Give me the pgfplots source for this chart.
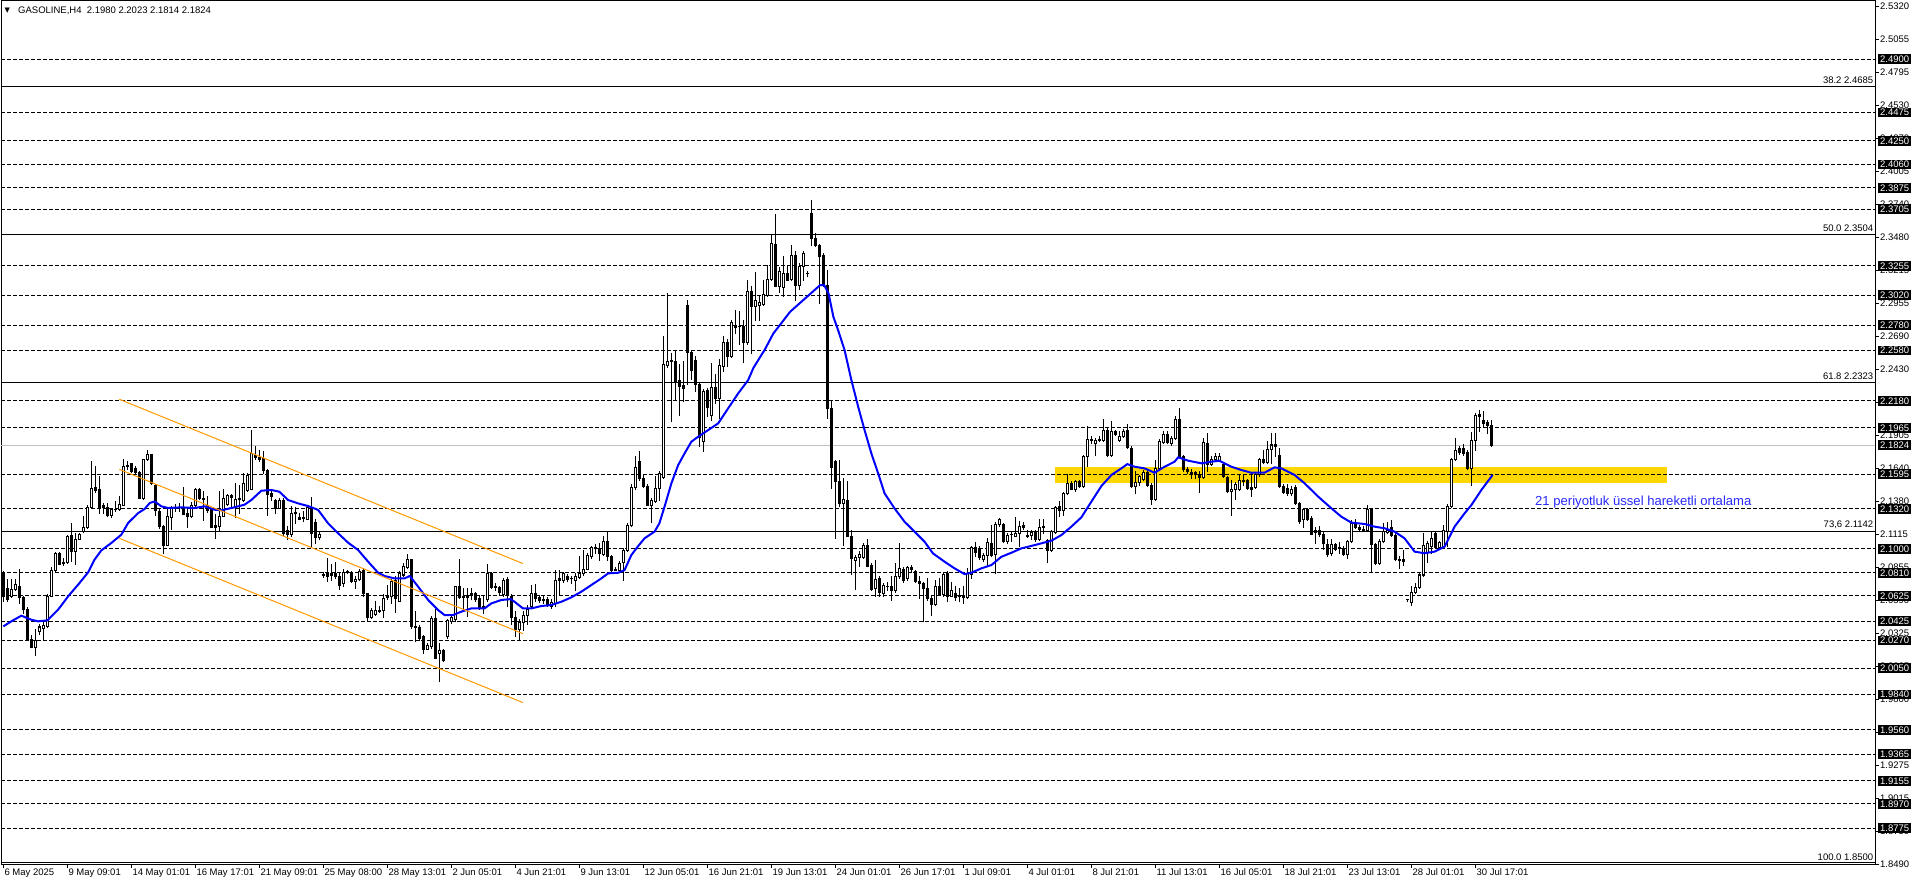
\documentclass[border=0pt]{standalone}
\usepackage{fontspec}
\setmainfont{Liberation Sans}
\newfontfamily\symfont{DejaVu Sans}
\usepackage{pgfplots}
\usepackage{pgfplotstable}
\pgfplotsset{compat=1.18}

\definecolor{mtorange}{RGB}{255,153,0}
\definecolor{mtgold}{RGB}{255,215,0}
\definecolor{mtsilver}{RGB}{192,192,192}
\definecolor{mtblue}{RGB}{0,0,255}
\definecolor{notecol}{RGB}{40,40,255}

\newcommand\lab{\fontsize{9.5bp}{11bp}\selectfont}

% H4 candles, bar index / open / high / low / close
\pgfplotstableread{
i o h l c
0 2.0808 2.0821 2.0582 2.0622
1 2.0688 2.0755 2.0582 2.0595
2 2.0622 2.0760 2.0615 2.0680
3 2.0675 2.0760 2.0670 2.0715
4 2.0702 2.0834 2.0569 2.0609
5 2.0609 2.0622 2.0489 2.0516
6 2.0521 2.0530 2.0282 2.0282
7 2.0282 2.0309 2.0211 2.0211
8 2.0211 2.0357 2.0150 2.0272
9 2.0343 2.0396 2.0317 2.0378
10 2.0370 2.0415 2.0277 2.0388
11 2.0383 2.0635 2.0378 2.0617
12 2.0622 2.0848 2.0617 2.0829
13 2.0829 2.0972 2.0821 2.0967
14 2.0967 2.0972 2.0874 2.0874
15 2.0893 2.0927 2.0866 2.0880
16 2.0893 2.1105 2.0882 2.1100
17 2.1105 2.1200 2.0901 2.0980
18 2.0980 2.1121 2.0874 2.1073
19 2.1073 2.1121 2.1073 2.1113
20 2.1139 2.1259 2.1131 2.1174
21 2.1174 2.1344 2.1166 2.1333
22 2.1333 2.1697 2.1325 2.1484
23 2.1492 2.1652 2.1450 2.1466
24 2.1471 2.1577 2.1285 2.1325
25 2.1344 2.1365 2.1285 2.1331
26 2.1331 2.1360 2.1254 2.1264
27 2.1264 2.1325 2.1246 2.1312
28 2.1312 2.1378 2.1299 2.1317
29 2.1317 2.1413 2.1307 2.1352
30 2.1349 2.1710 2.1344 2.1657
31 2.1657 2.1697 2.1630 2.1662
32 2.1678 2.1683 2.1609 2.1617
33 2.1636 2.1652 2.1591 2.1609
34 2.1609 2.1617 2.1405 2.1405
35 2.1400 2.1710 2.1392 2.1710
36 2.1710 2.1784 2.1705 2.1750
37 2.1750 2.1750 2.1511 2.1519
38 2.1503 2.1511 2.1264 2.1304
39 2.1299 2.1312 2.1166 2.1179
40 2.1179 2.1184 2.0962 2.1025
41 2.1028 2.1312 2.1025 2.1259
42 2.1246 2.1339 2.1153 2.1325
43 2.1325 2.1352 2.1299 2.1331
44 2.1331 2.1365 2.1299 2.1328
45 2.1331 2.1492 2.1272 2.1272
46 2.1285 2.1312 2.1174 2.1254
47 2.1254 2.1370 2.1246 2.1344
48 2.1344 2.1484 2.1339 2.1471
49 2.1476 2.1484 2.1392 2.1405
50 2.1405 2.1458 2.1227 2.1392
51 2.1344 2.1413 2.1291 2.1307
52 2.1325 2.1325 2.1174 2.1174
53 2.1174 2.1272 2.1086 2.1187
54 2.1179 2.1458 2.1147 2.1259
55 2.1259 2.1471 2.1254 2.1405
56 2.1352 2.1431 2.1344 2.1423
57 2.1413 2.1431 2.1339 2.1423
58 2.1333 2.1519 2.1246 2.1397
59 2.1392 2.1503 2.1285 2.1405
60 2.1386 2.1599 2.1378 2.1519
61 2.1466 2.1599 2.1458 2.1583
62 2.1476 2.1944 2.1471 2.1758
63 2.1747 2.1814 2.1708 2.1729
64 2.1729 2.1782 2.1694 2.1713
65 2.1721 2.1774 2.1601 2.1623
66 2.1623 2.1628 2.1262 2.1429
67 2.1437 2.1469 2.1389 2.1416
68 2.1384 2.1394 2.1278 2.1323
69 2.1323 2.1402 2.1318 2.1389
70 2.1389 2.1402 2.1110 2.1124
71 2.1150 2.1177 2.1071 2.1118
72 2.1118 2.1336 2.1102 2.1283
73 2.1278 2.1331 2.1203 2.1288
74 2.1251 2.1283 2.1230 2.1235
75 2.1243 2.1296 2.1217 2.1251
76 2.1235 2.1341 2.1230 2.1331
77 2.1331 2.1410 2.1012 2.1124
78 2.1209 2.1235 2.1039 2.1092
79 2.1092 2.1129 2.1076 2.1118
80 2.0792 2.0810 2.0773 2.0792
81 2.0784 2.0925 2.0739 2.0800
82 2.0792 2.0872 2.0752 2.0805
83 2.0805 2.0890 2.0765 2.0779
84 2.0784 2.0800 2.0678 2.0712
85 2.0725 2.0837 2.0699 2.0810
86 2.0810 2.0826 2.0800 2.0818
87 2.0805 2.0818 2.0731 2.0739
88 2.0739 2.0779 2.0686 2.0757
89 2.0757 2.0837 2.0752 2.0818
90 2.0826 2.0845 2.0619 2.0641
91 2.0641 2.0646 2.0420 2.0455
92 2.0455 2.0526 2.0447 2.0513
93 2.0481 2.0580 2.0473 2.0513
94 2.0500 2.0545 2.0492 2.0513
95 2.0508 2.0633 2.0455 2.0606
96 2.0614 2.0712 2.0593 2.0625
97 2.0619 2.0757 2.0566 2.0739
98 2.0752 2.0779 2.0492 2.0606
99 2.0580 2.0818 2.0580 2.0800
100 2.0792 2.0885 2.0779 2.0858
101 2.0853 2.0959 2.0845 2.0917
102 2.0917 2.0917 2.0367 2.0381
103 2.0381 2.0500 2.0261 2.0373
104 2.0375 2.0386 2.0274 2.0288
105 2.0306 2.0314 2.0168 2.0200
106 2.0200 2.0243 2.0195 2.0227
107 2.0221 2.0460 2.0208 2.0447
108 2.0447 2.0519 2.0128 2.0128
109 2.0168 2.0248 1.9943 2.0189
110 2.0189 2.0200 2.0102 2.0110
111 2.0301 2.0439 2.0288 2.0426
112 2.0420 2.0474 2.0402 2.0455
113 2.0434 2.0704 2.0420 2.0699
114 2.0704 2.0917 2.0606 2.0614
115 2.0619 2.0686 2.0526 2.0614
116 2.0614 2.0686 2.0460 2.0625
117 2.0625 2.0686 2.0593 2.0641
118 2.0641 2.0651 2.0580 2.0593
119 2.0606 2.0625 2.0519 2.0526
120 2.0526 2.0619 2.0487 2.0540
121 2.0593 2.0879 2.0580 2.0800
122 2.0800 2.0810 2.0686 2.0694
123 2.0694 2.0725 2.0672 2.0704
124 2.0694 2.0704 2.0633 2.0651
125 2.0633 2.0765 2.0619 2.0752
126 2.0757 2.0773 2.0540 2.0625
127 2.0620 2.0640 2.0400 2.0450
128 2.0450 2.0500 2.0300 2.0360
129 2.0360 2.0440 2.0280 2.0410
130 2.0410 2.0500 2.0350 2.0470
131 2.0470 2.0550 2.0400 2.0520
132 2.0540 2.0712 2.0527 2.0646
133 2.0646 2.0720 2.0579 2.0606
134 2.0614 2.0625 2.0571 2.0587
135 2.0598 2.0619 2.0566 2.0590
136 2.0598 2.0614 2.0540 2.0553
137 2.0540 2.0593 2.0527 2.0571
138 2.0566 2.0831 2.0540 2.0752
139 2.0752 2.0831 2.0632 2.0765
140 2.0750 2.0810 2.0731 2.0800
141 2.0784 2.0792 2.0739 2.0757
142 2.0762 2.0778 2.0726 2.0765
143 2.0747 2.0805 2.0672 2.0784
144 2.0773 2.0938 2.0765 2.0805
145 2.0800 2.0991 2.0792 2.0837
146 2.0837 2.0964 2.0832 2.0951
147 2.0938 2.1022 2.0925 2.1012
148 2.1004 2.1038 2.0964 2.1009
149 2.1006 2.1043 2.0906 2.0964
150 2.0959 2.1097 2.0951 2.1057
151 2.1057 2.1137 2.0911 2.0943
152 2.0938 2.0951 2.0818 2.0831
153 2.0837 2.0853 2.0826 2.0831
154 2.0826 2.0898 2.0810 2.0885
155 2.0890 2.1004 2.0752 2.0991
156 2.0991 2.1203 2.0983 2.1190
157 2.1190 2.1516 2.1177 2.1490
158 2.1490 2.1734 2.1474 2.1649
159 2.1694 2.1774 2.1548 2.1561
160 2.1561 2.1588 2.1490 2.1500
161 2.1500 2.1516 2.1349 2.1349
162 2.1349 2.1402 2.1208 2.1389
163 2.1376 2.1575 2.1368 2.1482
164 2.1482 2.1614 2.1389 2.1601
165 2.1569 2.2689 2.1561 2.2464
166 2.2456 2.3034 2.2445 2.2490
167 2.2490 2.2557 2.2012 2.2498
168 2.2490 2.2570 2.2185 2.2323
169 2.2339 2.2464 2.2058 2.2291
170 2.2297 2.2490 2.2172 2.2278
171 2.2941 2.2981 2.2312 2.2562
172 2.2562 2.2583 2.2350 2.2424
173 2.2498 2.2530 2.2251 2.2312
174 2.2312 2.2318 2.1819 2.1888
175 2.1853 2.2265 2.1774 2.2251
176 2.2259 2.2278 2.2053 2.2127
177 2.2058 2.2472 2.2026 2.2286
178 2.2286 2.2392 2.2159 2.2198
179 2.2198 2.2504 2.2039 2.2456
180 2.2451 2.2689 2.2411 2.2642
181 2.2642 2.2663 2.2451 2.2530
182 2.2535 2.2817 2.2525 2.2801
183 2.2766 2.2896 2.2716 2.2781
184 2.2769 2.2888 2.2631 2.2769
185 2.2769 2.2817 2.2482 2.2642
186 2.2642 2.3135 2.2631 2.3047
187 2.3047 2.3087 2.2558 2.2933
188 2.2933 2.3198 2.2821 2.2975
189 2.2941 2.3020 2.2821 2.2959
190 2.2949 2.3135 2.2941 2.3028
191 2.3020 2.3259 2.3012 2.3145
192 2.3145 2.3498 2.3140 2.3432
193 2.3427 2.3665 2.3087 2.3087
194 2.3087 2.3241 2.3039 2.3206
195 2.3082 2.3326 2.3012 2.3193
196 2.3193 2.3259 2.3135 2.3140
197 2.3145 2.3419 2.3135 2.3339
198 2.3339 2.3366 2.2981 2.3100
199 2.3100 2.3273 2.3066 2.3251
200 2.3251 2.3366 2.3140 2.3352
201 2.3193 2.3206 2.3166 2.3193
202 2.3671 2.3777 2.3419 2.3472
203 2.3472 2.3512 2.3411 2.3419
204 2.3419 2.3427 2.2954 2.3331
205 2.3339 2.3352 2.3087 2.3100
206 2.3100 2.3220 2.2039 2.2118
207 2.2118 2.2185 2.1482 2.1649
208 2.1694 2.1707 2.1083 2.1535
209 2.1535 2.1707 2.1336 2.1362
210 2.1362 2.1561 2.1030 2.1394
211 2.1389 2.1535 2.1097 2.1102
212 2.1102 2.1150 2.0799 2.0924
213 2.0911 2.0951 2.0677 2.0932
214 2.0932 2.0977 2.0858 2.0959
215 2.0932 2.1044 2.0924 2.1030
216 2.1030 2.1076 2.0858 2.0863
217 2.0871 2.0884 2.0672 2.0677
218 2.0685 2.0911 2.0619 2.0757
219 2.0765 2.0778 2.0619 2.0651
220 2.0646 2.0725 2.0624 2.0712
221 2.0704 2.0731 2.0672 2.0699
222 2.0704 2.0784 2.0592 2.0672
223 2.0672 2.0884 2.0651 2.0784
224 2.0778 2.1044 2.0765 2.0845
225 2.0837 2.0853 2.0731 2.0752
226 2.0765 2.0858 2.0752 2.0853
227 2.0837 2.0871 2.0810 2.0853
228 2.0818 2.0826 2.0731 2.0738
229 2.0738 2.0778 2.0606 2.0725
230 2.0725 2.0731 2.0420 2.0685
231 2.0685 2.0765 2.0592 2.0606
232 2.0606 2.0619 2.0473 2.0561
233 2.0561 2.0752 2.0553 2.0704
234 2.0704 2.0765 2.0632 2.0640
235 2.0640 2.0805 2.0619 2.0799
236 2.0805 2.0818 2.0579 2.0624
237 2.0624 2.0731 2.0619 2.0667
238 2.0646 2.0699 2.0592 2.0614
239 2.0632 2.0685 2.0579 2.0619
240 2.0632 2.0704 2.0566 2.0614
241 2.0614 2.0845 2.0606 2.0805
242 2.0799 2.1017 2.0765 2.1012
243 2.1012 2.1049 2.0937 2.0969
244 2.1004 2.1017 2.0916 2.0932
245 2.0916 2.0964 2.0898 2.0951
246 2.0951 2.1083 2.0871 2.1049
247 2.1044 2.1190 2.0937 2.0951
248 2.0959 2.1208 2.0805 2.1198
249 2.1198 2.1243 2.1177 2.1230
250 2.1198 2.1203 2.1049 2.1057
251 2.1057 2.1123 2.1044 2.1110
252 2.1113 2.1137 2.1057 2.1118
253 2.1102 2.1251 2.1097 2.1123
254 2.1123 2.1216 2.1017 2.1182
255 2.1190 2.1208 2.1155 2.1171
256 2.1110 2.1150 2.1092 2.1097
257 2.1110 2.1150 2.1076 2.1129
258 2.1129 2.1150 2.1057 2.1076
259 2.1076 2.1235 2.1070 2.1171
260 2.1171 2.1230 2.1123 2.1177
261 2.1070 2.1076 2.0890 2.0991
262 2.0991 2.1145 2.0978 2.1137
263 2.1129 2.1341 2.1123 2.1330
264 2.1336 2.1376 2.1256 2.1304
265 2.1304 2.1447 2.1269 2.1437
266 2.1437 2.1596 2.1429 2.1522
267 2.1522 2.1535 2.1469 2.1474
268 2.1469 2.1548 2.1455 2.1535
269 2.1535 2.1548 2.1490 2.1495
270 2.1495 2.1747 2.1490 2.1739
271 2.1734 2.1973 2.1654 2.1872
272 2.1872 2.1893 2.1840 2.1861
273 2.1835 2.1880 2.1747 2.1866
274 2.1866 2.1893 2.1853 2.1872
275 2.1866 2.2031 2.1853 2.1946
276 2.1946 2.1959 2.1739 2.1747
277 2.1747 2.2013 2.1739 2.1933
278 2.1933 2.1941 2.1906 2.1914
279 2.1861 2.1933 2.1853 2.1898
280 2.1893 2.1951 2.1888 2.1933
281 2.1941 2.1994 2.1800 2.1808
282 2.1800 2.1813 2.1490 2.1500
283 2.1495 2.1614 2.1437 2.1527
284 2.1527 2.1588 2.1508 2.1580
285 2.1553 2.1622 2.1543 2.1606
286 2.1606 2.1622 2.1500 2.1508
287 2.1508 2.1522 2.1357 2.1394
288 2.1394 2.1702 2.1389 2.1641
289 2.1641 2.1872 2.1628 2.1853
290 2.1845 2.1933 2.1840 2.1914
291 2.1914 2.1933 2.1835 2.1845
292 2.1840 2.1893 2.1827 2.1880
293 2.1880 2.2052 2.1872 2.2031
294 2.2031 2.2119 2.1729 2.1734
295 2.1734 2.1747 2.1614 2.1633
296 2.1633 2.1649 2.1601 2.1614
297 2.1606 2.1628 2.1561 2.1596
298 2.1596 2.1614 2.1561 2.1606
299 2.1596 2.1614 2.1447 2.1569
300 2.1569 2.1880 2.1561 2.1845
301 2.1840 2.1920 2.1614 2.1675
302 2.1675 2.1734 2.1667 2.1713
303 2.1713 2.1760 2.1702 2.1734
304 2.1707 2.1760 2.1694 2.1739
305 2.1675 2.1686 2.1569 2.1580
306 2.1569 2.1580 2.1447 2.1455
307 2.1455 2.1548 2.1269 2.1474
308 2.1469 2.1527 2.1394 2.1516
309 2.1469 2.1588 2.1463 2.1548
310 2.1548 2.1588 2.1508 2.1535
311 2.1548 2.1553 2.1474 2.1482
312 2.1490 2.1596 2.1416 2.1474
313 2.1490 2.1606 2.1482 2.1596
314 2.1596 2.1720 2.1580 2.1713
315 2.1713 2.1787 2.1676 2.1686
316 2.1686 2.1854 2.1676 2.1793
317 2.1793 2.1915 2.1676 2.1827
318 2.1827 2.1915 2.1734 2.1814
319 2.1747 2.1800 2.1490 2.1495
320 2.1495 2.1509 2.1442 2.1448
321 2.1482 2.1509 2.1421 2.1442
322 2.1437 2.1495 2.1421 2.1474
323 2.1490 2.1501 2.1350 2.1363
324 2.1363 2.1368 2.1203 2.1217
325 2.1230 2.1323 2.1172 2.1310
326 2.1310 2.1323 2.1225 2.1230
327 2.1243 2.1257 2.1111 2.1118
328 2.1150 2.1172 2.1044 2.1129
329 2.1150 2.1182 2.1097 2.1111
330 2.1118 2.1129 2.0996 2.1039
331 2.1031 2.1076 2.0938 2.0959
332 2.0964 2.1071 2.0951 2.1031
333 2.1031 2.1039 2.0986 2.0996
334 2.1012 2.1049 2.0964 2.1004
335 2.1004 2.1017 2.0951 2.0959
336 2.0959 2.1065 2.0925 2.1057
337 2.1057 2.1225 2.1049 2.1203
338 2.1203 2.1230 2.1164 2.1172
339 2.1172 2.1190 2.1150 2.1156
340 2.1156 2.1177 2.1137 2.1150
341 2.1150 2.1349 2.1137 2.1310
342 2.1310 2.1323 2.0811 2.1031
343 2.1031 2.1044 2.0872 2.0880
344 2.0885 2.1071 2.0872 2.1057
345 2.1057 2.1203 2.1049 2.1137
346 2.1129 2.1209 2.1124 2.1150
347 2.1172 2.1225 2.1097 2.1103
348 2.1103 2.1129 2.0906 2.0912
349 2.0912 2.0938 2.0845 2.0906
350 2.0912 2.0986 2.0864 2.0898
351 2.0593 2.0598 2.0585 2.0593
352 2.0572 2.0699 2.0553 2.0651
353 2.0651 2.0726 2.0646 2.0694
354 2.0694 2.0805 2.0686 2.0792
355 2.0792 2.1124 2.0779 2.1023
356 2.0970 2.1057 2.0890 2.1044
357 2.1018 2.1129 2.0965 2.1084
358 2.1124 2.1129 2.1004 2.1012
359 2.1012 2.1057 2.1004 2.1049
360 2.1018 2.1190 2.1004 2.1145
361 2.1137 2.1357 2.1018 2.1341
362 2.1336 2.1721 2.1331 2.1713
363 2.1713 2.1880 2.1702 2.1782
364 2.1800 2.1819 2.1755 2.1766
365 2.1800 2.1827 2.1747 2.1761
366 2.1766 2.1782 2.1628 2.1641
367 2.1641 2.1925 2.1501 2.1862
368 2.1862 2.2079 2.1782 2.2058
369 2.2053 2.2100 2.1933 2.2066
370 2.2021 2.2092 2.1973 2.2000
371 2.2005 2.2021 2.1920 2.1986
372 2.1980 2.2023 2.1814 2.1824
}\candles

% 21-period EMA
\pgfplotstableread{
i e
0 2.0383
2 2.0423
4.5 2.0468
7 2.0436
8.7 2.0423
11 2.0431
13.7 2.0516
16.2 2.0622
18.7 2.0715
21.2 2.0813
22.8 2.0914
24.5 2.0988
27 2.1047
29.5 2.1113
31.2 2.1206
33.7 2.1285
35.3 2.1317
36.6 2.1365
37.8 2.1378
39.5 2.1339
41.2 2.1325
44.5 2.1331
47.8 2.1325
50.3 2.1339
52.8 2.1312
54.5 2.1307
57.8 2.1331
60.3 2.1352
62 2.1389
64.5 2.1463
67 2.1469
69 2.1455
71.2 2.1389
73.7 2.1362
76.2 2.1341
78.7 2.1310
81.2 2.1203
83.7 2.1124
86.2 2.1049
88.7 2.0991
91.2 2.0898
93.7 2.0810
95.3 2.0784
97.8 2.0765
100.3 2.0765
101.6 2.0784
103.7 2.0699
106.2 2.0593
108.7 2.0513
110.3 2.0473
112.4 2.0473
114.5 2.0500
117 2.0526
120.3 2.0526
122 2.0566
124.5 2.0593
126.8 2.0600
127.8 2.0579
129.9 2.0526
132 2.0526
134.5 2.0545
137 2.0553
139.5 2.0579
142 2.0614
144.5 2.0659
147 2.0712
149.5 2.0765
151.2 2.0805
153.7 2.0810
155.3 2.0831
157 2.0951
158.7 2.1022
160.3 2.1084
162.8 2.1137
164 2.1203
165.3 2.1336
167 2.1521
168.7 2.1667
170.3 2.1760
172 2.1853
173.7 2.1893
176.2 2.1946
178.7 2.1999
181.2 2.2119
183.7 2.2238
186.2 2.2344
187.5 2.2440
189.5 2.2543
190.3 2.2583
192.5 2.2715
196.7 2.2888
200.9 2.3007
204.2 2.3100
205.2 2.3100
206.3 2.3034
207.5 2.2848
208.7 2.2740
210.3 2.2583
212 2.2344
213.7 2.2132
215.3 2.1946
217 2.1760
218.7 2.1601
220.3 2.1442
222.8 2.1322
225.3 2.1216
227.8 2.1137
230.3 2.1057
232.4 2.0964
235.3 2.0898
237.8 2.0845
240.3 2.0799
242 2.0810
244.5 2.0845
247 2.0871
249.5 2.0937
252 2.0969
254.5 2.1004
257.8 2.1030
262 2.1065
264.5 2.1110
267 2.1177
269.5 2.1251
272 2.1376
274.5 2.1500
277 2.1588
279.5 2.1641
281 2.1675
282.8 2.1654
285.3 2.1641
287.8 2.1606
290.3 2.1654
292.8 2.1694
293.7 2.1729
296.2 2.1702
299.5 2.1681
302 2.1694
304 2.1702
307 2.1654
309.5 2.1628
312 2.1606
315.3 2.1607
317.8 2.1649
319.5 2.1641
322.8 2.1588
325.3 2.1522
328.7 2.1416
332 2.1323
334.5 2.1256
337 2.1209
340.3 2.1198
342.8 2.1177
345.3 2.1164
347.8 2.1137
350.3 2.1084
352.8 2.0978
355.3 2.0965
357.8 2.0978
360.3 2.1018
362.8 2.1177
365.3 2.1283
367 2.1349
369.5 2.1469
372.3 2.1588
}\ema

\tikzset{pbox/.style={fill=black, text=white, font=\lab, inner xsep=2bp,
  inner ysep=1.5bp, anchor=west, text height=6.8bp, text depth=0pt, xshift=3bp}}

\begin{document}
\begin{tikzpicture}
\path (0,0) rectangle (1916bp,888bp);
\begin{axis}[
  set layers,
  at={(1bp,23.6bp)}, anchor=south west, scale only axis,
  width=1874bp, height=863.4bp,
  xmin=-0.575, xmax=467.9, ymin=1.8488, ymax=2.5362,
  clip=false,
  axis line style={line width=1bp},
  tick align=outside, major tick length=4bp,
  tick style={line width=1bp, black},
  xtick pos=bottom, ytick pos=right, yticklabel pos=right,
  xtick={0,16,...,368},
  xticklabels={6 May 2025, 9 May 09:01, 14 May 01:01, 16 May 17:01, 21 May 09:01,
    25 May 08:00, 28 May 13:01, 2 Jun 05:01, 4 Jun 21:01, 9 Jun 13:01,
    12 Jun 05:01, 16 Jun 21:01, 19 Jun 13:01, 24 Jun 01:01, 26 Jun 17:01,
    1 Jul 09:01, 4 Jul 01:01, 8 Jul 21:01, 11 Jul 13:01, 16 Jul 05:01,
    18 Jul 21:01, 23 Jul 13:01, 28 Jul 01:01, 30 Jul 17:01},
  xticklabel style={font=\lab, anchor=north west, inner sep=0pt, xshift=1bp},
  ytick={1.8490,1.8750,1.9015,1.9275,1.9540,1.9800,2.0065,2.0325,2.0590,
    2.0855,2.1115,2.1380,2.1640,2.1905,2.2165,2.2430,2.2690,2.2955,2.3215,
    2.3480,2.3740,2.4005,2.4270,2.4530,2.4795,2.5055,2.5320},
  scaled y ticks=false,
  yticklabel style={font=\lab, anchor=west, inner sep=0pt, xshift=1bp,
    /pgf/number format/.cd, fixed, fixed zerofill, precision=4,
    assume math mode=true},
]

% support zone
\addplot[fill=mtgold, draw=none] coordinates {(262.9,2.1527) (415.9,2.1527) (415.9,2.1650) (262.9,2.1650)};

% dashed levels
\pgfplotsinvokeforeach{2.4900,2.4475,2.4250,2.4060,2.3875,2.3705,2.3255,2.3020,
  2.2780,2.2580,2.2180,2.1965,2.1595,2.1320,2.1000,2.0810,2.0625,2.0425,2.0270,
  2.0050,1.9840,1.9560,1.9365,1.9155,1.8970,1.8775}{
  \addplot[black, line width=1bp, dash pattern=on 3.5bp off 2.5bp] coordinates {(-0.575,#1) (467.9,#1)};
}
% fibonacci levels
\pgfplotsinvokeforeach{2.4685,2.3504,2.2323,2.1142,1.8500}{
  \addplot[black, line width=1bp] coordinates {(-0.575,#1) (467.9,#1)};
}
% bid line
\addplot[mtsilver, line width=1bp] coordinates {(-0.575,2.1824) (467.9,2.1824)};

% wicks
\addplot[draw=none, mark=none, error bars/.cd, y dir=plus, y explicit, error mark=none,
  error bar style={draw=black, line width=1bp}]
  table[x=i, y expr=\thisrow{l}-0.0004, y error plus expr=\thisrow{h}-\thisrow{l}+0.0008] {\candles};
% bodies
\addplot[draw=none, mark=none, error bars/.cd, y dir=plus, y explicit, error mark=none,
  error bar style={draw=black, line width=3bp}]
  table[x=i, y expr={min(\thisrow{o},\thisrow{c})-0.0004},
    y error plus expr={abs(\thisrow{c}-\thisrow{o})+0.0008}] {\candles};
% hollow inside of rising candles
\addplot[draw=none, mark=none, x filter/.expression={\thisrow{c}-\thisrow{o}>0.0017 ? x : nan},
  error bars/.cd, y dir=plus, y explicit, error mark=none,
  error bar style={draw=white, line width=1bp}]
  table[x=i, y expr=\thisrow{o}+0.0004, y error plus expr=\thisrow{c}-\thisrow{o}-0.0008] {\candles};

% EMA 21
\addplot[mtblue, line width=2bp] table[x=i, y=e] {\ema};

% descending channel
\addplot[mtorange, line width=1bp] coordinates {(29,2.2191) (129.9,2.0883)};
\addplot[mtorange, line width=1bp] coordinates {(29,2.1633) (129.9,2.0325)};
\addplot[mtorange, line width=1bp] coordinates {(29,2.1084) (129.9,1.9776)};

\node[anchor=base west, inner sep=0pt, text=notecol, font=\fontsize{13.1bp}{16bp}\selectfont]
  at (axis cs:382.9,2.1349) {21 periyotluk üssel hareketli ortalama};

% fibonacci labels
\node[anchor=south east, inner sep=0pt, font=\lab, yshift=2.5bp] at (axis cs:467.5,2.4685) {38.2 2.4685};
\node[anchor=south east, inner sep=0pt, font=\lab, yshift=2.5bp] at (axis cs:467.5,2.3504) {50.0 2.3504};
\node[anchor=south east, inner sep=0pt, font=\lab, yshift=2.5bp] at (axis cs:467.5,2.2323) {61.8 2.2323};
\node[anchor=south east, inner sep=0pt, font=\lab, yshift=2.5bp] at (axis cs:467.5,2.1142) {73,6 2.1142};
\node[anchor=south east, inner sep=0pt, font=\lab, yshift=2.5bp] at (axis cs:467.5,1.8500) {100.0 1.8500};

% price tags on the right scale
\pgfplotsinvokeforeach{2.4900,2.4475,2.4250,2.4060,2.3875,2.3705,2.3255,2.3020,
  2.2780,2.2580,2.2180,2.1965,2.1824,2.1595,2.1320,2.1000,2.0810,2.0625,2.0425,
  2.0270,2.0050,1.9840,1.9560,1.9365,1.9155,1.8970,1.8775}{
  \node[pbox] at (axis cs:467.9,#1) {#1};
}
\end{axis}

\node[anchor=base west, inner sep=0pt, font=\symfont\fontsize{7bp}{8bp}\selectfont] at (4.5bp,875.5bp) {▼};
\node[anchor=base west, inner sep=0pt, font=\lab] at (18bp,874.5bp) {GASOLINE,H4\ \ 2.1980 2.2023 2.1814 2.1824};
\end{tikzpicture}
\end{document}
